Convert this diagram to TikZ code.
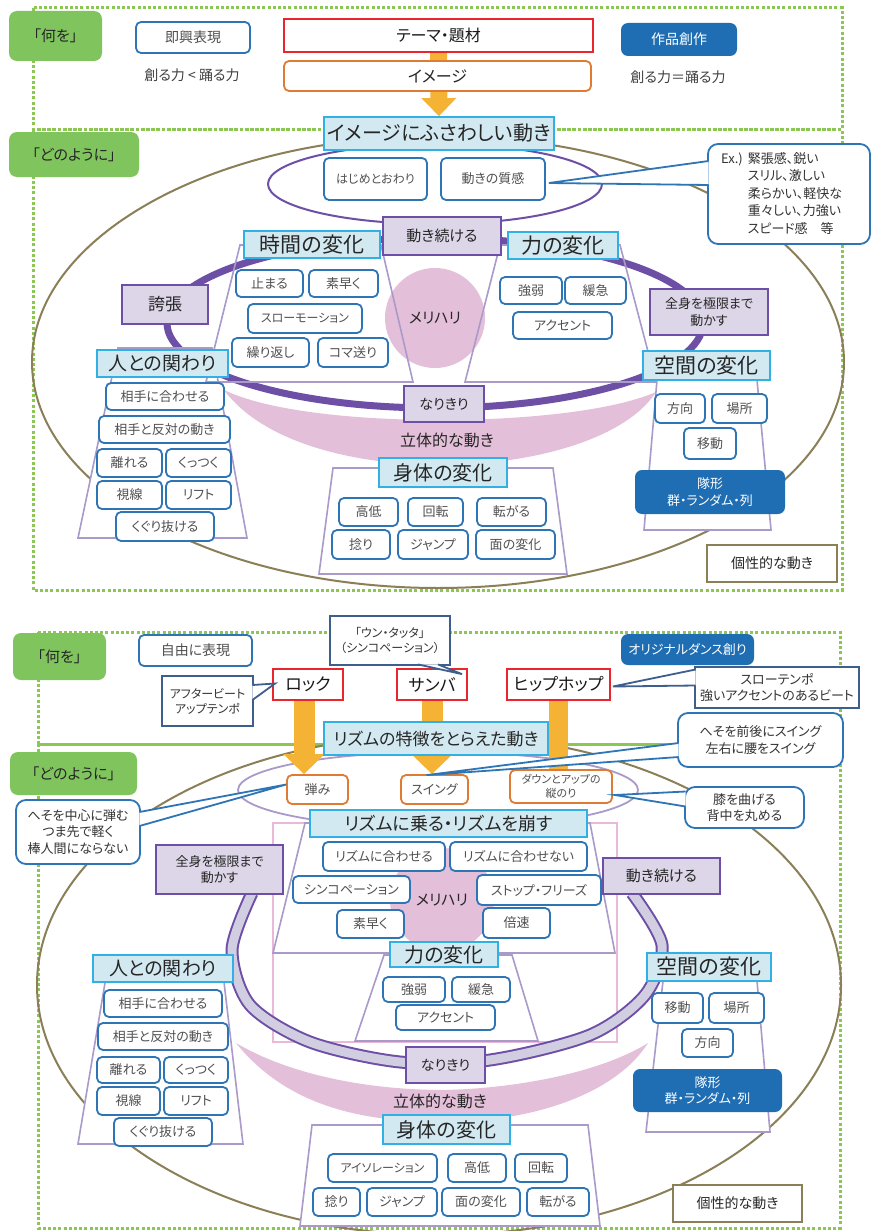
\documentclass[tikz,border=0pt]{standalone}
\usepackage{fontspec}
\setmainfont{Noto Sans CJK JP}[RawFeature=+palt]
\usetikzlibrary{calc,arrows.meta}
\definecolor{cBlue}{HTML}{2E75B6}
\definecolor{cCyan}{HTML}{33B0E3}
\definecolor{cHead}{HTML}{D3E9F1}
\definecolor{cPurp}{HTML}{6E4FA6}
\definecolor{cPurpF}{HTML}{DCD6E8}
\definecolor{cGreen}{HTML}{80C45E}
\definecolor{cDot}{HTML}{8CC653}
\definecolor{cDark}{HTML}{1F6EB4}
\definecolor{cRed}{HTML}{E8262B}
\definecolor{cOrange}{HTML}{E07B33}
\definecolor{cArrow}{HTML}{F5B335}
\definecolor{cOlive}{HTML}{8B7F57}
\definecolor{cLav}{HTML}{A99ACA}
\definecolor{cPink}{HTML}{E3BFD9}
\definecolor{cPinkL}{HTML}{E9B9DA}
\definecolor{cSteel}{HTML}{3E5E8E}
\definecolor{cTxt}{HTML}{505050}
\definecolor{cRingF}{HTML}{D2CEE2}
\newcommand\fsz[1]{\fontsize{#1}{\fpeval{#1*1.25}}\selectfont}
\newcommand\boxat[7]{\node[#1, minimum width={(#5-#3)*1pt}, minimum height={(#6-#4)*1pt}, anchor=center] (#2) at ({(#3+#5)/2},{(#4+#6)/2}) {#7};}
\newcommand\callptr[4]{\fill[white] #2 -- #3 -- #4 -- cycle; \draw[#1] #2 -- #3 -- #4;}
\pgfdeclarelayer{bgA}\pgfdeclarelayer{bgB}\pgfdeclarelayer{bgC}
\pgfsetlayers{bgA,bgB,bgC,main}
\begin{document}
\begin{tikzpicture}[x=1pt,y=-1pt,
 bb/.style={draw=cBlue, line width=1.8pt, rounded corners=5pt, fill=white, inner sep=0pt, text=cTxt, font=\fsz{13}},
 hd/.style={draw=cCyan, line width=1.8pt, fill=cHead, inner sep=0pt, text=black!85, font=\fsz{20}},
 pb/.style={draw=cPurp, line width=1.8pt, fill=cPurpF, inner sep=0pt, text=black!85, font=\fsz{14}, align=center},
 gb/.style={fill=cGreen, rounded corners=8pt, inner sep=0pt, text=black!85, font=\fsz{15}},
 db/.style={fill=cDark, rounded corners=7pt, inner sep=0pt, text=white, font=\fsz{13}, align=center},
 rb/.style={draw=cRed, line width=1.8pt, fill=white, inner sep=0pt, text=black!90, font=\fsz{16}},
 ob/.style={draw=cOrange, line width=1.8pt, rounded corners=5pt, fill=white, inner sep=0pt, text=cTxt, font=\fsz{13}, align=center},
 olb/.style={draw=cOlive, line width=2pt, fill=white, inner sep=0pt, text=black!85, font=\fsz{14}},
 cb/.style={draw=cBlue, line width=1.8pt, rounded corners=10pt, fill=white, inner sep=0pt, text=black!80, font=\fsz{13}, align=center},
 sb/.style={draw=cSteel, line width=1.8pt, fill=white, inner sep=0pt, text=black!80, font=\fsz{13}, align=center},
 tz/.style={draw=cLav, line width=1.6pt},
 dotg/.style={draw=cDot, line width=3pt, dash pattern=on 3pt off 2.2pt},
 oarrow/.style={cArrow, line width=21pt, -{Triangle[width=40pt,length=20pt]}},
 meri/.style={circle, fill=cPink, inner sep=0pt, text=black!85, font=\fsz{15}}
]
\useasboundingbox (0,0) rectangle (871,1231);

% ================= TOP NODES =================
\boxat{gb}{wo1}{9}{11}{102}{61}{「何を」}
\boxat{gb}{dy1}{9}{132}{139}{177}{「どのように」}
\boxat{bb,font=\fsz{14}}{sokkyo}{136}{22}{250}{53}{即興表現}
\node[font=\fsz{14}, text=black!75] (tsukuru1) at (192,75) {創る力 < 踊る力};
\boxat{rb}{theme}{284}{19}{593}{52}{テーマ・題材}
\boxat{ob,font=\fsz{16},text=black!85}{image}{284}{61}{591}{91}{イメージ}
\boxat{db,font=\fsz{14}}{sakuhin}{621}{23}{737}{56}{作品創作}
\node[font=\fsz{14}, text=black!75] (tsukuru2) at (678,77) {創る力＝踊る力};
\boxat{hd}{fusawashii}{324}{117}{554}{150}{イメージにふさわしい動き}
\boxat{bb,font=\fsz{12}}{hajime}{324}{158}{427}{200}{はじめとおわり}
\boxat{bb}{shitsu}{441}{158}{545}{200}{動きの質感}
\boxat{pb,font=\fsz{15}}{tsuzuke1}{383}{217}{501}{255}{動き続ける}
\boxat{hd,font=\fsz{21}}{jikan1}{244}{231}{380}{258}{時間の変化}
\boxat{hd,font=\fsz{21}}{chikara1}{508}{232}{618}{259}{力の変化}
\boxat{pb,font=\fsz{17}}{kocho}{122}{285}{208}{324}{誇張}
\boxat{pb,font=\fsz{13}}{zenshin1}{650}{289}{768}{335}{全身を極限まで\\動かす}
\boxat{bb}{tomaru}{236}{270}{303}{297}{止まる}
\boxat{bb}{subayaku1}{309}{270}{378}{297}{素早く}
\boxat{bb,font=\fsz{12}}{slowmo}{248}{304}{362}{333}{スローモーション}
\boxat{bb}{kurikaeshi}{232}{338}{309}{367}{繰り返し}
\boxat{bb}{komaokuri}{318}{338}{388}{367}{コマ送り}
\boxat{bb}{kyojaku1}{500}{277}{562}{304}{強弱}
\boxat{bb}{kankyu1}{565}{277}{626}{304}{緩急}
\boxat{bb}{accent1}{513}{312}{612}{339}{アクセント}
\boxat{pb}{nari1}{404}{386}{484}{422}{なりきり}
\node[font=\fsz{16}, text=black!85] (ritai1) at (447,440) {立体的な動き};
\boxat{hd,font=\fsz{19}}{hito1}{97}{350}{228}{377}{人との関わり}
\boxat{bb}{awase1}{106}{383}{224}{410}{相手に合わせる}
\boxat{bb}{hantai1}{99}{416}{230}{443}{相手と反対の動き}
\boxat{bb}{hanare1}{97}{449}{162}{477}{離れる}
\boxat{bb}{kuttsuku1}{166}{449}{231}{477}{くっつく}
\boxat{bb}{shisen1}{97}{481}{162}{509}{視線}
\boxat{bb}{lift1}{166}{481}{231}{509}{リフト}
\boxat{bb}{kuguri1}{116}{512}{214}{541}{くぐり抜ける}
\boxat{hd}{shintai1}{379}{458}{507}{487}{身体の変化}
\boxat{bb}{kotei1}{339}{498}{398}{526}{高低}
\boxat{bb}{kaiten1}{408}{498}{463}{526}{回転}
\boxat{bb}{korogaru1}{477}{498}{546}{526}{転がる}
\boxat{bb}{hineri1}{332}{530}{390}{559}{捻り}
\boxat{bb}{jump1}{398}{530}{468}{559}{ジャンプ}
\boxat{bb}{men1}{476}{530}{555}{559}{面の変化}
\boxat{hd,font=\fsz{21}}{kukan1}{643}{351}{770}{380}{空間の変化}
\boxat{bb}{houkou1}{655}{394}{705}{423}{方向}
\boxat{bb}{basho1}{712}{394}{767}{423}{場所}
\boxat{bb}{idou1}{684}{428}{736}{459}{移動}
\boxat{db}{taikei1}{635}{470}{785}{514}{隊形\\群・ランダム・列}
\boxat{olb}{kosei1}{707}{545}{837}{582}{個性的な動き}

% ================= BOTTOM NODES =================
\boxat{gb}{wo2}{13}{633}{106}{680}{「何を」}
\boxat{gb}{dy2}{10}{752}{137}{795}{「どのように」}
\boxat{bb,font=\fsz{14}}{jiyu}{139}{635}{252}{666}{自由に表現}
\boxat{rb,font=\fsz{17}}{rock}{273}{669}{343}{700}{ロック}
\boxat{rb,font=\fsz{17}}{samba}{397}{669}{467}{700}{サンバ}
\boxat{rb,font=\fsz{17}}{hiphop}{507}{669}{610}{700}{ヒップホップ}
\boxat{db}{original}{621}{634}{754}{665}{オリジナルダンス創り}
\boxat{hd,font=\fsz{17}}{tokucho}{324}{722}{548}{755}{リズムの特徴をとらえた動き}
\boxat{ob}{hazumi}{287}{775}{348}{804}{弾み}
\boxat{ob}{swing}{401}{775}{468}{804}{スイング}
\boxat{ob,font=\fsz{11}}{down}{510}{770}{612}{803}{ダウンとアップの\\縦のり}
\boxat{hd,font=\fsz{18}}{noru}{310}{810}{587}{837}{リズムに乗る・リズムを崩す}
\boxat{bb}{awaseR}{323}{842}{445}{871}{リズムに合わせる}
\boxat{bb}{awasenai}{450}{842}{587}{871}{リズムに合わせない}
\boxat{bb}{synco}{293}{876}{410}{903}{シンコペーション}
\boxat{bb}{stop}{477}{875}{601}{905}{ストップ・フリーズ}
\boxat{bb}{subayaku2}{337}{910}{404}{938}{素早く}
\boxat{bb}{baisoku}{483}{908}{550}{938}{倍速}
\boxat{hd}{chikara2}{390}{942}{498}{967}{力の変化}
\boxat{bb}{kyojaku2}{383}{977}{445}{1002}{強弱}
\boxat{bb}{kankyu2}{452}{977}{510}{1002}{緩急}
\boxat{bb}{accent2}{396}{1005}{495}{1030}{アクセント}
\boxat{pb,font=\fsz{13}}{zenshin2}{156}{845}{283}{894}{全身を極限まで\\動かす}
\boxat{pb,font=\fsz{15}}{tsuzuke2}{603}{858}{720}{894}{動き続ける}
\boxat{pb}{nari2}{406}{1047}{485}{1083}{なりきり}
\node[font=\fsz{16}, text=black!85] (ritai2) at (440,1101) {立体的な動き};
\boxat{hd,font=\fsz{19}}{hito2}{93}{955}{233}{982}{人との関わり}
\boxat{bb}{awase2}{104}{990}{222}{1017}{相手に合わせる}
\boxat{bb}{hantai2}{98}{1023}{228}{1050}{相手と反対の動き}
\boxat{bb}{hanare2}{97}{1057}{160}{1083}{離れる}
\boxat{bb}{kuttsuku2}{164}{1057}{228}{1083}{くっつく}
\boxat{bb}{shisen2}{97}{1087}{160}{1115}{視線}
\boxat{bb}{lift2}{164}{1087}{228}{1115}{リフト}
\boxat{bb}{kuguri2}{114}{1118}{212}{1146}{くぐり抜ける}
\boxat{hd,font=\fsz{21}}{kukan2}{647}{953}{771}{981}{空間の変化}
\boxat{bb}{idou2}{652}{993}{703}{1023}{移動}
\boxat{bb}{basho2}{709}{993}{764}{1023}{場所}
\boxat{bb}{houkou2}{682}{1029}{733}{1057}{方向}
\boxat{db}{taikei2}{633}{1069}{782}{1112}{隊形\\群・ランダム・列}
\boxat{olb}{kosei2}{673}{1185}{802}{1222}{個性的な動き}
\boxat{hd}{shintai2}{383}{1115}{510}{1144}{身体の変化}
\boxat{bb,font=\fsz{12}}{isolation}{328}{1154}{437}{1182}{アイソレーション}
\boxat{bb}{kotei2}{448}{1154}{506}{1182}{高低}
\boxat{bb}{kaiten2}{515}{1154}{567}{1182}{回転}
\boxat{bb}{hineri2}{313}{1188}{360}{1216}{捻り}
\boxat{bb}{jump2}{367}{1188}{437}{1216}{ジャンプ}
\boxat{bb}{men2}{442}{1188}{520}{1216}{面の変化}
\boxat{bb}{korogaru2}{527}{1188}{589}{1216}{転がる}

% ================= LAYERS BEHIND =================
\begin{pgfonlayer}{bgA}
\fill[white] (0,0) rectangle (871,1231);
\draw[dotg] (33,8) rectangle (842,129);
\draw[dotg] (33,129) rectangle (842,590);
\draw[dotg] (38,632) rectangle (840,744);
\draw[dotg] (38,744) rectangle (840,1228);
\draw[cOlive, line width=2pt] (438,362) ellipse [x radius=406pt, y radius=226pt];
\draw[cOlive, line width=2pt] (439,985) ellipse [x radius=402pt, y radius=250pt];
\draw[cPurp, line width=2pt] (435,184) ellipse [x radius=167pt, y radius=40pt];
\draw[cLav, line width=1.8pt] (438,790) ellipse [x radius=200pt, y radius=38pt];
\fill[white] (240,245) -- (381,245) -- (413,382) -- (206,382) -- cycle;
\fill[white] (500,245) -- (620,245) -- (656,382) -- (465,382) -- cycle;
\fill[white] (118,348) -- (212,348) -- (247,538) -- (78,538) -- cycle;
\fill[white] (333,468) -- (553,468) -- (567,574) -- (319,574) -- cycle;
\fill[white] (657,380) -- (757,380) -- (771,530) -- (644,530) -- cycle;
\fill[white] (305,823) -- (590,823) -- (615,953) -- (273,953) -- cycle;
\fill[white] (384,955) -- (512,955) -- (538,1041) -- (355,1041) -- cycle;
\fill[white] (108,965) -- (222,965) -- (243,1144) -- (78,1144) -- cycle;
\fill[white] (663,981) -- (757,981) -- (770,1132) -- (646,1132) -- cycle;
\fill[white] (312,1125) -- (588,1125) -- (600,1226) -- (300,1226) -- cycle;
\end{pgfonlayer}

\begin{pgfonlayer}{bgB}
\fill[cPink] (224,390) .. controls (265,445) and (360,465) .. (440,465) .. controls (530,465) and (625,440) .. (656,392) .. controls (615,410) and (530,420) .. (440,420) .. controls (350,420) and (265,410) .. (224,390) -- cycle;
\fill[cPink] (236,1043) .. controls (290,1110) and (370,1122) .. (445,1122) .. controls (530,1122) and (615,1095) .. (648,1043) .. controls (605,1070) and (525,1088) .. (445,1090) .. controls (360,1090) and (285,1072) .. (236,1043) -- cycle;
\draw[cPinkL, line width=2pt] (273,823) rectangle (617,1042);
\node[meri, minimum size=100pt] (meri1) at (435,318) {メリハリ};
\node[meri, minimum size=104pt] (meri2) at (442,900) {メリハリ};
\draw[cPurp, line width=7pt] (435,323) ellipse [x radius=268pt, y radius=85pt];
\draw[cPurp, line width=13pt] plot[smooth] coordinates {(252,893) (232,950) (250,1005) (310,1042) (400,1062) (490,1060) (590,1035) (645,995) (662,945) (632,893)};
\draw[cRingF, line width=9pt] plot[smooth] coordinates {(252,893) (232,950) (250,1005) (310,1042) (400,1062) (490,1060) (590,1035) (645,995) (662,945) (632,893)};
\end{pgfonlayer}

\begin{pgfonlayer}{bgC}
\draw[tz] (240,245) -- (381,245) -- (413,382) -- (206,382) -- cycle;
\draw[tz] (500,245) -- (620,245) -- (656,382) -- (465,382) -- cycle;
\draw[tz] (118,348) -- (212,348) -- (247,538) -- (78,538) -- cycle;
\draw[tz] (333,468) -- (553,468) -- (567,574) -- (319,574) -- cycle;
\draw[tz] (657,380) -- (757,380) -- (771,530) -- (644,530) -- cycle;
\draw[tz] (305,823) -- (590,823) -- (615,953) -- (273,953) -- cycle;
\draw[tz] (384,955) -- (512,955) -- (538,1041) -- (355,1041) -- cycle;
\draw[tz] (108,965) -- (222,965) -- (243,1144) -- (78,1144) -- cycle;
\draw[tz] (663,981) -- (757,981) -- (770,1132) -- (646,1132) -- cycle;
\draw[tz] (312,1125) -- (588,1125) -- (600,1226) -- (300,1226) -- cycle;
\draw[cArrow, line width=17pt, -{Triangle[width=34pt,length=18pt]}] (theme.south) -- (fusawashii.north);
\draw[oarrow] ([xshift=-4pt]rock.south) -- ([xshift=-4pt]rock.south |- hazumi.north);
\draw[oarrow] (samba.south) -- (samba.south |- swing.north);
\draw[cArrow, line width=19pt] (hiphop.south) -- (hiphop.south |- down.north);
\end{pgfonlayer}

% ================= CALLOUTS =================
\boxat{cb}{ex}{708}{144}{870}{244}{}
\node[anchor=north west, inner sep=0pt, font=\fontsize{13}{17.5}\selectfont, text=black!80] (extext) at (721,151) {\begin{tabular}{@{}l@{\hspace{5pt}}l@{}}Ex.) & 緊張感、鋭い\\ & スリル、激しい\\ & 柔らかい、軽快な\\ & 重々しい、力強い\\ & スピード感\quad 等\end{tabular}};
\callptr{draw=cBlue,line width=1.8pt}{($(ex.west)+(1.5,-33)$)}{($(shitsu.east)+(3,4)$)}{($(ex.west)+(1.5,-9)$)}

\boxat{sb,font=\fsz{12}}{unta}{330}{616}{450}{665}{「ウン・タッタ」\\（シンコペーション）}
\callptr{draw=cSteel,line width=1.8pt}{($(unta.south)+(28,-1.5)$)}{($(samba.north)+(30,6)$)}{($(unta.south)+(48,-1.5)$)}
\boxat{sb,font=\fsz{12}}{after}{162}{676}{253}{726}{アフタービート\\アップテンポ}
\callptr{draw=cSteel,line width=1.8pt}{($(after.east)+(-1.5,-16)$)}{($(rock.west)+(3,-1)$)}{($(after.east)+(-1.5,-1)$)}
\boxat{sb}{slow}{695}{667}{859}{708}{スローテンポ\\強いアクセントのあるビート}
\callptr{draw=cSteel,line width=1.8pt}{($(slow.west)+(1.5,-18)$)}{($(hiphop.east)+(2,2)$)}{($(slow.west)+(1.5,-2)$)}
\boxat{cb}{hesoA}{678}{713}{843}{767}{へそを前後にスイング\\左右に腰をスイング}
\callptr{draw=cBlue,line width=1.8pt}{($(hesoA.west)+(1.5,3)$)}{($(swing.north)+(-8,1)$)}{($(hesoA.west)+(1.5,17)$)}
\boxat{cb}{hiza}{685}{787}{804}{828}{膝を曲げる\\背中を丸める}
\callptr{draw=cBlue,line width=1.8pt}{($(hiza.west)+(1.5,-16)$)}{($(down.east)+(2,8.5)$)}{($(hiza.west)+(1.5,-1)$)}
\boxat{cb}{hesoC}{16}{800}{140}{864}{へそを中心に弾む\\つま先で軽く\\棒人間にならない}
\callptr{draw=cBlue,line width=1.8pt}{($(hesoC.east)+(-1.5,-20)$)}{($(hazumi.west)+(0,-5)$)}{($(hesoC.east)+(-1.5,-6)$)}
\end{tikzpicture}
\end{document}
